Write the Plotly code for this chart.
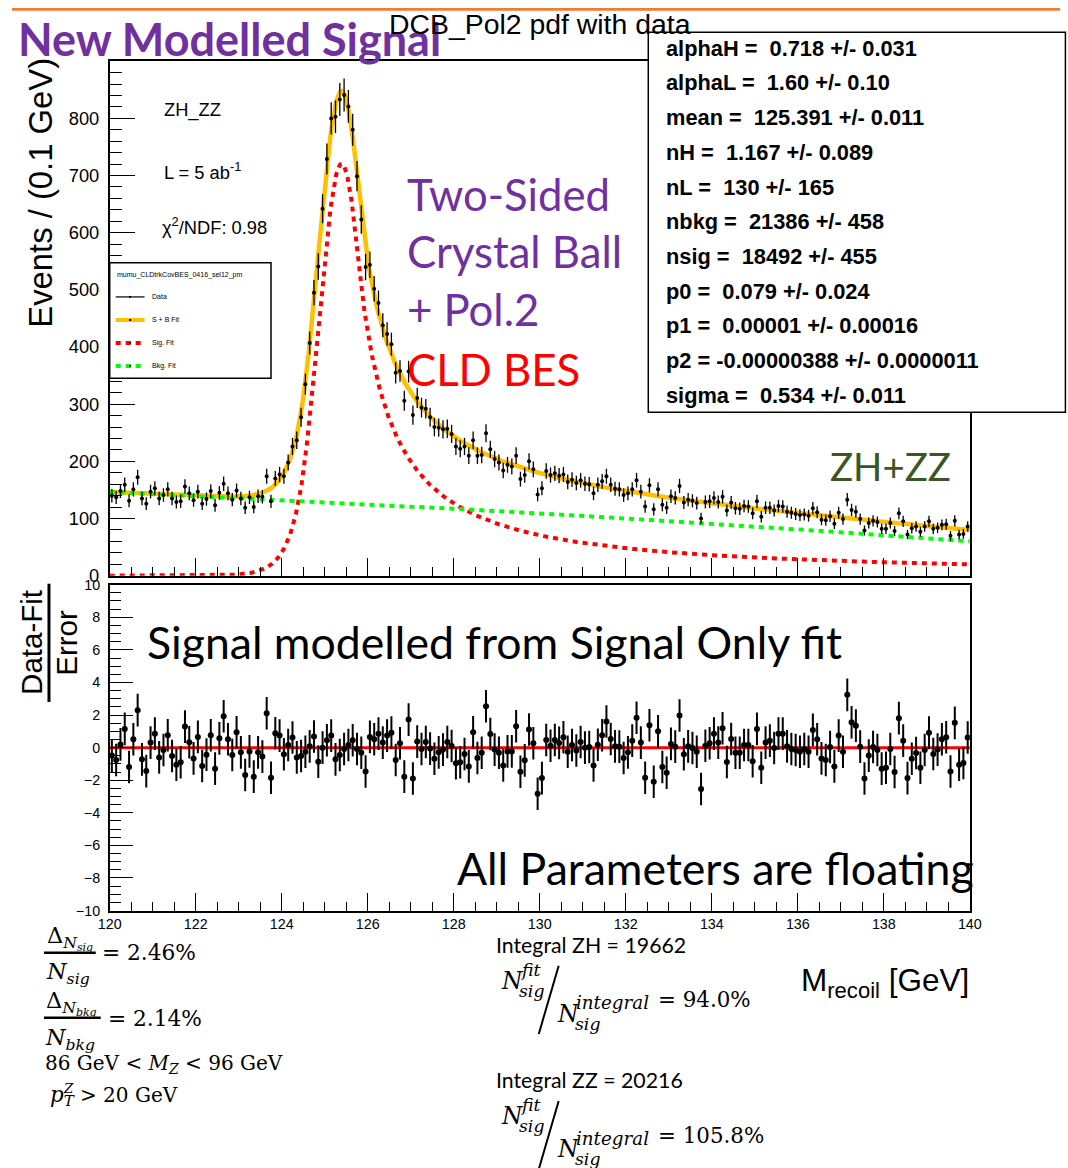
import numpy as np
import plotly.graph_objects as go

# target picture size, the screen scale seen in the snapshot, and the html body margin
PAGE_W, PAGE_H, S, OFF = 1068, 1168, 0.982, 8
W = int(round(PAGE_W / S)) - 2 * OFF
H = int(round(PAGE_H / S)) - 2 * OFF

# ---- fit results (DCB signal + pol2 background) ----
alphaH, alphaL = 0.718, 1.60
mean, sigma = 125.391, 0.534
nH, nL = 1.167, 130.0
nbkg, nsig = 21386.0, 18492.0
p0, p1, p2 = 0.079, 0.00001, -0.00000388

x_lo, x_hi, bin_w = 120.0, 140.0, 0.1
bin_centers = np.round(np.arange(x_lo + bin_w / 2, x_hi, bin_w), 2)

# pull per bin: (data - fit) / error
pulls = [
    -0.49, -0.76, 0.20, 1.15, -1.19, 0.51, 2.30, -0.72, -1.44, 0.31,
    0.86, -0.60, -0.14, 0.76, -0.51, -1.05, -0.90, 1.29, 0.33, -0.66,
    0.66, -1.13, -0.43, 0.76, -1.29, 0.57, 1.93, 0.51, -0.45, 0.94,
    -0.29, -1.68, -0.23, -1.78, -0.29, -0.55, 2.11, -1.85, 0.88, 0.74,
    -0.41, 0.16, 0.62, -0.60, -0.51, -0.25, 0.08, 0.68, -0.86, 0.00,
    0.45, 0.74, -0.72, -0.45, -0.08, 0.16, 0.45, -0.08, -0.31, -1.46,
    0.66, 0.51, 0.86, 0.31, 0.74, 0.92, -0.76, 0.27, -1.78, 1.72,
    -1.89, 0.37, -0.08, 0.35, -0.06, -0.68, -0.29, -0.12, 0.35, 0.10,
    -0.96, -0.90, -0.39, -1.15, 0.94, -0.64, -0.31, 2.54, 0.84, -0.12,
    -0.31, -1.09, -0.23, -0.23, 1.31, -1.48, -0.78, 1.11, 0.27, -2.83,
    -1.87, 0.47, 0.12, 0.47, 0.29, 0.64, -0.25, 0.16, -0.18, 0.35,
    0.00, 0.04, -1.09, 0.18, 0.76, 1.60, 0.53, 0.08, 0.06, -0.64,
    -0.29, 0.43, 1.83, 0.31, -1.85, 1.37, -2.09, 1.00, -1.19, -1.54,
    0.23, 0.06, 1.97, -0.41, 0.08, -0.02, -0.25, -2.54, 0.12, 0.27,
    0.86, 0.31, 1.19, -0.88, 0.53, -0.31, -0.31, 0.16, 0.16, -0.84,
    1.15, -1.23, 0.31, 0.43, -0.02, 0.86, 0.86, 0.08, -0.08, -0.14,
    -0.25, -0.08, -0.25, 1.09, 0.51, -0.66, -0.76, 0.04, -1.15, 0.74,
    -0.25, 3.24, 1.56, 1.35, 0.06, -1.89, -0.49, 0.04, -0.14, -1.29,
    -1.23, -0.08, -1.50, 1.81, 0.43, -1.87, -0.68, -0.33, -1.23, -0.14,
    0.92, -0.39, -0.12, 0.51, 0.64, -1.46, 1.52, -1.05, -0.94, 0.62,
]

param_lines = [
    "alphaH =  0.718 +/- 0.031",
    "alphaL =  1.60 +/- 0.10",
    "mean =  125.391 +/- 0.011",
    "nH =  1.167 +/- 0.089",
    "nL =  130 +/- 165",
    "nbkg =  21386 +/- 458",
    "nsig =  18492 +/- 455",
    "p0 =  0.079 +/- 0.024",
    "p1 =  0.00001 +/- 0.00016",
    "p2 = -0.00000388 +/- 0.0000011",
    "sigma =  0.534 +/- 0.011",
]


# ---- model shapes ----
def dcb_shape(x):
    t = (np.asarray(x) - mean) / sigma
    out = np.exp(-0.5 * t * t)
    lo = t < -alphaL
    hi = t > alphaH
    bl = nL / alphaL - alphaL
    bh = nH / alphaH - alphaH
    out = np.where(lo, np.exp(-0.5 * alphaL ** 2) * ((nL / alphaL) / np.maximum(bl - t, 1e-9)) ** nL, out)
    out = np.where(hi, np.exp(-0.5 * alphaH ** 2) * ((nH / alphaH) / np.maximum(bh + t, 1e-9)) ** nH, out)
    return out


def pol_shape(x):
    x = np.asarray(x)
    return 1 + p0 * x + p1 * x ** 2 + p2 * x ** 3


grid = np.linspace(x_lo, x_hi, 4001)
sig_norm = np.trapezoid(dcb_shape(grid), grid)
bkg_norm = np.trapezoid(pol_shape(grid), grid)


def sig_curve(x):
    return nsig * bin_w * dcb_shape(x) / sig_norm


def bkg_curve(x):
    return nbkg * bin_w * pol_shape(x) / bkg_norm


xf = np.linspace(x_lo, x_hi, 2001)
sig_f = sig_curve(xf)
bkg_f = bkg_curve(xf)
tot_f = sig_f + bkg_f

pulls = np.array(pulls)
fit_bins = sig_curve(bin_centers) + bkg_curve(bin_centers)
counts = np.round(fit_bins + pulls * np.sqrt(fit_bins))
count_err = np.sqrt(counts)


# ---- helpers: picture pixel -> paper fraction ----
def px(x):
    return (x / S - OFF) / W


def py(y):
    return 1 - (y / S - OFF) / H


fig = go.Figure()

ORANGE = "#FFC000"
fig.add_trace(go.Scatter(x=xf, y=tot_f, mode="lines", line=dict(color=ORANGE, width=4.5),
                         xaxis="x", yaxis="y", hoverinfo="skip"))
fig.add_trace(go.Scatter(x=xf, y=sig_f, mode="lines", line=dict(color="#FF0000", width=4, dash="5px,5px"),
                         xaxis="x", yaxis="y", hoverinfo="skip"))
fig.add_trace(go.Scatter(x=xf, y=bkg_f, mode="lines", line=dict(color="#00FF00", width=4, dash="5px,5px"),
                         xaxis="x", yaxis="y", hoverinfo="skip"))
fig.add_trace(go.Scatter(x=bin_centers, y=counts, mode="markers",
                         marker=dict(color="black", size=4),
                         error_y=dict(type="data", array=count_err, color="black", thickness=1.3, width=0),
                         xaxis="x", yaxis="y"))

# residual panel
fig.add_trace(go.Scatter(x=[x_lo, x_hi], y=[0, 0], mode="lines", line=dict(color="#FF0000", width=3),
                         xaxis="x2", yaxis="y2", hoverinfo="skip"))
fig.add_trace(go.Scatter(x=bin_centers, y=pulls, mode="markers",
                         marker=dict(color="black", size=6),
                         error_y=dict(type="data", array=np.ones_like(pulls), color="black", thickness=2, width=0),
                         xaxis="x2", yaxis="y2"))

common = dict(showline=True, linecolor="black", linewidth=1.5, mirror=True, ticks="inside",
              tickcolor="black", showgrid=False, zeroline=False)

fig.update_layout(
    width=W, height=H, margin=dict(l=0, r=0, t=0, b=0),
    paper_bgcolor="white", plot_bgcolor="white", showlegend=False,
    xaxis=dict(domain=[px(106), px(970)], anchor="y", range=[x_lo, x_hi], dtick=2, tick0=120,
               ticklen=18, tickwidth=1.3, showticklabels=False,
               minor=dict(dtick=0.5, ticklen=9, ticks="inside", tickcolor="black", tickwidth=1.2), **common),
    yaxis=dict(domain=[py(574), py(61)], anchor="x", range=[0, 899.9], dtick=100, tick0=0,
               ticklen=26, tickwidth=1.3, ticklabelstandoff=5,
               tickfont=dict(family="Liberation Sans, Arial", size=18.3, color="black"),
               minor=dict(dtick=20, ticklen=13, ticks="inside", tickcolor="black", tickwidth=1.2), **common),
    xaxis2=dict(domain=[px(106), px(970)], anchor="y2", range=[x_lo, x_hi], dtick=2, tick0=120,
                ticklen=18, tickwidth=1.3, tickfont=dict(family="Liberation Sans, Arial", size=14.3, color="black"),
                minor=dict(dtick=0.5, ticklen=9, ticks="inside", tickcolor="black", tickwidth=1.2), **common),
    yaxis2=dict(domain=[py(908), py(583)], anchor="x2", range=[-10, 10], dtick=2, tick0=0,
                ticklen=24, tickwidth=1.3, ticklabelstandoff=5,
                tickfont=dict(family="Liberation Sans, Arial", size=14.3, color="black"),
                minor=dict(dtick=0.5, ticklen=12, ticks="inside", tickcolor="black", tickwidth=1.2), **common),
)

shapes = []
annots = []


def text(x, y, s, size, color="black", family="Liberation Sans, Arial", xa="left", ya="middle", angle=0):
    annots.append(dict(x=px(x), y=py(y), xref="paper", yref="paper", text=s, showarrow=False,
                       xanchor=xa, yanchor=ya, textangle=angle,
                       font=dict(family=family, size=size, color=color)))


def line(x0, y0, x1, y1, color="black", width=1.5, dash="solid"):
    shapes.append(dict(type="line", xref="paper", yref="paper", x0=px(x0), y0=py(y0), x1=px(x1), y1=py(y1),
                       line=dict(color=color, width=width, dash=dash)))


# orange rule along the top edge
shapes.append(dict(type="rect", xref="paper", yref="paper", x0=0, x1=1, y0=py(10.5), y1=1,
                   fillcolor="#ED7D31", line=dict(width=0)))

# headline and plot title
PURPLE = "#7030A0"
text(12, 39, "<b>New Modelled Signal</b>", 45, PURPLE, "Lato")
text(538, 24, "DCB_Pol2 pdf with data", 28.4, xa="center")

# axis titles
text(37, 192, "Events / (0.1 GeV)", 32.8, xa="center", angle=-90)
text(28, 641, "Data-Fit", 29.5, xa="center", angle=-90)
text(63, 641, "Error", 29.5, xa="center", angle=-90)
line(45, 582, 45, 700, width=3)
text(971, 980, "M<sub>recoil</sub> [GeV]", 31.5, xa="right")

# in-frame labels
text(159, 110, "ZH_ZZ", 18.3)
text(159, 170, "L = 5 ab<sup>-1</sup>", 18.3)
text(157, 225, "χ<sup>2</sup>/NDF: 0.98", 18.3)

# legend box
shapes.append(dict(type="rect", xref="paper", yref="paper", x0=px(106), x1=px(268), y0=py(377), y1=py(262),
                   fillcolor="white", line=dict(color="black", width=1.5)))
text(111, 274, "mumu_CLDtrkCovBES_0416_sel12_pm", 7)
leg_rows = [(296, "Data"), (319, "S + B Fit"), (342, "Sig. Fit"), (365, "Bkg. Fit")]
line(112, 296, 141, 296, "black", 1.2)
line(112, 319, 141, 319, ORANGE, 4)
line(112, 342, 141, 342, "#FF0000", 4, "5px,5px")
line(112, 365, 141, 365, "#00FF00", 4, "5px,5px")
for yy, lab in leg_rows:
    shapes.append(dict(type="rect", xref="paper", yref="paper", x0=px(125.5), x1=px(127.5),
                       y0=py(yy + 1), y1=py(yy - 1), fillcolor="black", line=dict(width=0)))
    text(146, yy, lab, 7)

# parameter box
shapes.append(dict(type="rect", xref="paper", yref="paper", x0=px(647), x1=px(1066), y0=py(411), y1=py(32),
                   fillcolor="white", line=dict(color="black", width=1.5)))
for i, s in enumerate(param_lines):
    text(663, 48 + i * 34.6, "<b>" + s.replace("  ", " \u00a0") + "</b>", 21.8)

# model description
text(403, 193, "Two-Sided", 43.7, PURPLE, "Lato")
text(403, 250, "Crystal Ball", 43.7, PURPLE, "Lato")
text(403, 308, "+ Pol.2", 43.7, PURPLE, "Lato")
text(403, 368, "CLD BES", 43.7, "#FF0000", "Lato")
text(828, 465, "ZH+ZZ", 38.4, "#385723", "Lato")
text(141, 640, "Signal modelled from Signal Only fit", 44.6, "black", "Lato")
text(976, 865, "All Parameters are floating", 44.6, "black", "Lato", xa="right")

# relative uncertainties and selection
SERIF = "DejaVu Serif"
text(66, 935, "Δ<sub><i>N<sub>sig</sub></i></sub>", 22.4, family=SERIF, xa="center")
line(40, 950, 92, 950, width=2.5)
text(64, 970, "<i>N<sub>sig</sub></i>", 22.4, family=SERIF, xa="center")
text(96, 950, "= 2.46%", 21.7, family=SERIF)
text(68, 1000, "Δ<sub><i>N<sub>bkg</sub></i></sub>", 22.4, family=SERIF, xa="center")
line(40, 1015, 97, 1015, width=2.5)
text(66, 1036, "<i>N<sub>bkg</sub></i>", 22.4, family=SERIF, xa="center")
text(102, 1016, "= 2.14%", 21.7, family=SERIF)
text(39, 1061, "86 GeV &lt; <i>M<sub>Z</sub></i> &lt; 96 GeV", 20, family=SERIF)
text(44, 1093, "<i>p<sub>T</sub></i>", 21.4, family=SERIF)
text(57, 1085, "<i>Z</i>", 13.3, family=SERIF)
text(74, 1092, "&gt; 20 GeV", 20, family=SERIF)


def ratio_block(y0, label, value):
    text(492, y0, label, 21.3, family="Lato")
    text(497, y0 + 36, "<i>N</i>", 23.4, family=SERIF)
    text(516, y0 + 25, "<i>fit</i>", 17.3, family=SERIF)
    text(515, y0 + 46, "<i>sig</i>", 17.3, family=SERIF)
    line(557, y0 + 21, 537, y0 + 89, width=2)
    text(553, y0 + 69, "<i>N</i>", 23.4, family=SERIF)
    text(572, y0 + 58, "<i>integral</i>", 18.3, family=SERIF)
    text(571, y0 + 79, "<i>sig</i>", 17.3, family=SERIF)
    text(655, y0 + 55, value, 21.4, family=SERIF)


ratio_block(942, "Integral ZH = 19662", "= 94.0%")
ratio_block(1077, "Integral ZZ = 20216", "= 105.8%")

fig.update_layout(shapes=shapes, annotations=annots)
fig.write_html("out.html")
